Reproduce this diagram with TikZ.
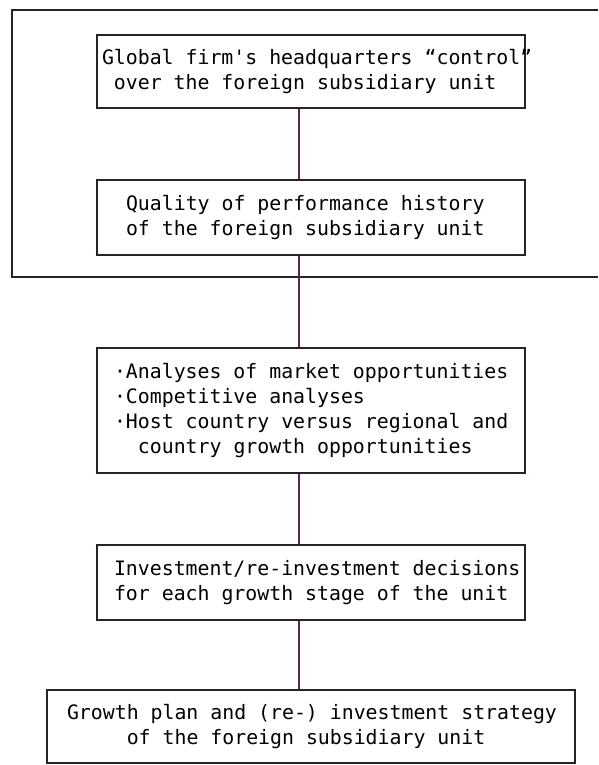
\documentclass[tikz,border=0pt]{standalone}
\usepackage{xcolor}
\usepackage{fontspec}
\usepackage{tikz}
\usetikzlibrary{positioning,calc}
\newfontfamily\boxfont{DejaVu Sans Mono}
\definecolor{linecol}{RGB}{40,35,40}
\definecolor{conncol}{RGB}{90,35,85}

\begin{document}
\begin{tikzpicture}[x=1pt,y=-1pt,
    box/.style={draw=linecol, line width=1.1pt, align=left, inner ysep=0pt,
        font=\boxfont\fontsize{19.85}{25}\selectfont,
        % monospace word spaces, one character cell wide
        execute at begin node={\spaceskip=11.95pt\xspaceskip=11.95pt}},
    link/.style={draw=conncol, line width=1.1pt}]
    \useasboundingbox (0,0) rectangle (598,765);
    \coordinate (spine) at (299,0);
    % outer frame round the first two boxes
    \draw[linecol, line width=1.1pt] (598,10) -- (12,10) -- (12,277) -- (598,277);
    \node[box, minimum height=73pt, inner xsep=5pt, text width=418pt] (hq) at (311,71.5)
        {\mbox{Global firm's headquarters “control”}\\\phantom{x}over the foreign subsidiary unit};
    \node[box, minimum height=75pt, inner xsep=29pt, text width=370pt] (perf) at (311,217.5)
        {Quality of performance history\\of the foreign subsidiary unit};
    \node[box, minimum height=125pt, inner xsep=17pt, text width=394pt] (mkt) at (311,410.5)
        {\mbox{·Analyses of market opportunities}\\·Competitive analyses\\\mbox{·Host country versus regional and}\\\phantom{xx}country growth opportunities};
    \node[box, minimum height=75pt, inner xsep=17pt, text width=394pt] (inv) at (311,582.5)
        {\mbox{Investment/re-investment decisions}\\\mbox{for each growth stage of the unit}};
    \node[box, minimum width=528pt, minimum height=73pt, inner xsep=20pt, text width=488pt] (plan) at (311,726.5)
        {\mbox{Growth plan and (re-) investment strategy}\\\phantom{xxxxx}of the foreign subsidiary unit};
    \draw[link] (hq.south -| spine) -- (perf.north -| spine);
    \draw[link] (perf.south -| spine) -- (mkt.north -| spine);
    \draw[link] (mkt.south -| spine) -- (inv.north -| spine);
    \draw[link] (inv.south -| spine) -- (plan.north -| spine);
\end{tikzpicture}
\end{document}
